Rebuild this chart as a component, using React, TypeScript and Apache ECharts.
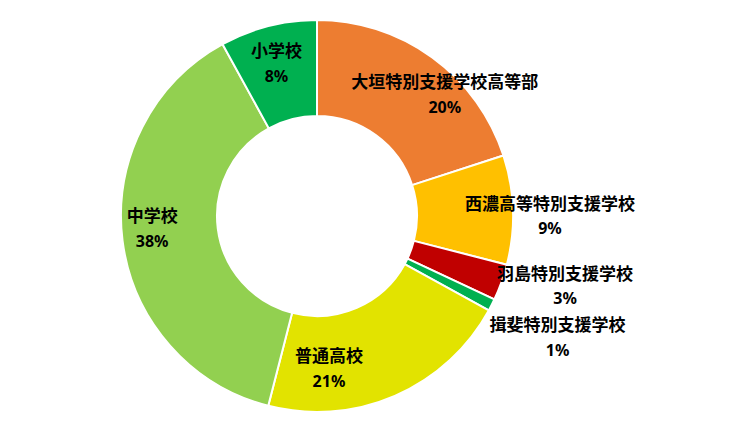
import React, { useEffect, useRef } from "react";
import * as echarts from "echarts";

const categories = [
  "大垣特別支援学校高等部",
  "西濃高等特別支援学校",
  "羽島特別支援学校",
  "揖斐特別支援学校",
  "普通高校",
  "中学校",
  "小学校",
];
const shares = [20, 9, 3, 1, 21, 38, 8];
const sliceColors = ["#ED7D31", "#FFC000", "#C00000", "#00B050", "#E2E300", "#92D050", "#00B050"];
// label nudges from the ring's mid-radius, in px
const labelNudges: number[][] = [
  [39, 0],
  [82, 4],
  [106, 18],
  [106, 52],
  [-48, 13],
  [-15, -7],
  [-3, -7],
];

export default function App() {
  const ref = useRef<HTMLDivElement>(null);
  useEffect(() => {
    document.body.style.margin = "0";
    const chart = echarts.init(ref.current!, undefined, { renderer: "svg" });
    const font = "'Noto Sans CJK JP', 'Noto Sans', sans-serif";
    chart.setOption({
      animation: false,
      backgroundColor: "#ffffff",
      series: [
        {
          type: "pie",
          center: [317, 216],
          radius: [100, 196],
          startAngle: 90,
          clockwise: true,
          avoidLabelOverlap: false,
          percentPrecision: 0,
          itemStyle: { borderColor: "#ffffff", borderWidth: 2 },
          label: {
            show: true,
            position: "inside",
            formatter: "{n|{b}}\n{p|{d}%}",
            color: "#000000",
            fontWeight: "bold",
            fontFamily: font,
            align: "center",
            rich: {
              n: { fontSize: 17, lineHeight: 26, fontWeight: "bold", fontFamily: font, color: "#000" },
              p: { fontSize: 16, lineHeight: 26, fontWeight: "bold", fontFamily: "'Noto Sans', sans-serif", color: "#000" },
            },
          },
          labelLine: { show: false },
          emphasis: { disabled: true },
          labelLayout: (p: any) => ({
            dx: labelNudges[p.dataIndex][0],
            dy: labelNudges[p.dataIndex][1],
          }),
          data: categories.map((name, i) => ({
            name,
            value: shares[i],
            itemStyle: { color: sliceColors[i] },
          })),
        },
      ],
    });
    return () => chart.dispose();
  }, []);
  return <div ref={ref} style={{ width: 737, height: 439 }} />;
}
